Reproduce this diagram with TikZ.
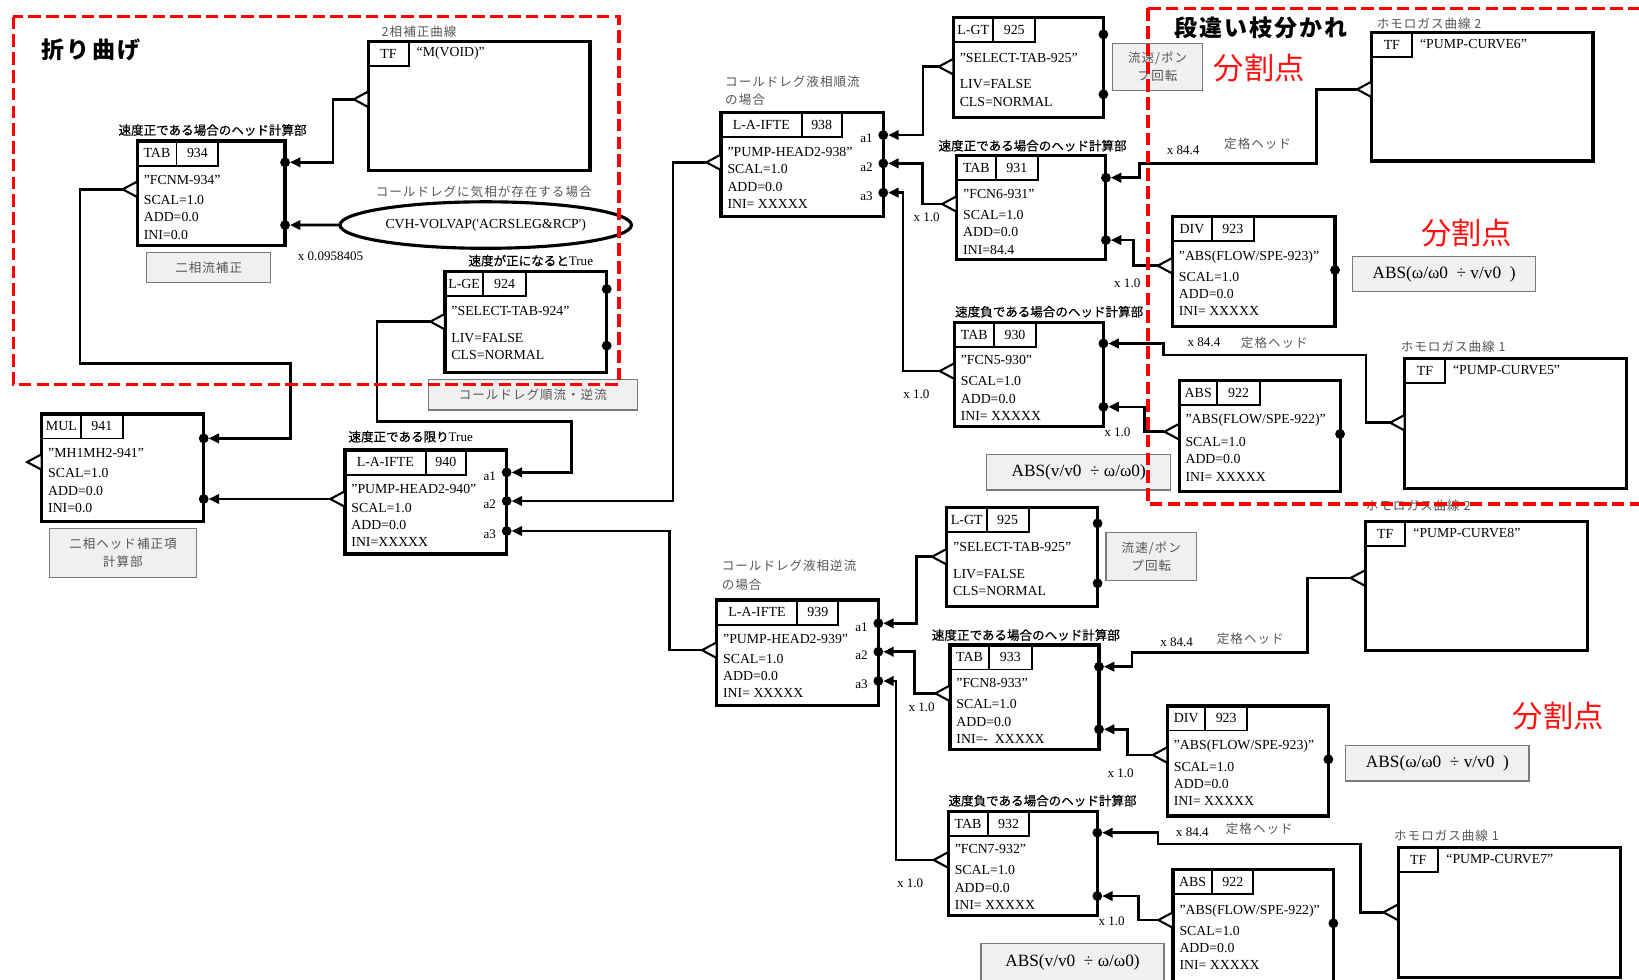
\documentclass[tikz,border=0pt]{standalone}
\usepackage{fontspec}
\setmainfont{Liberation Serif}
\newfontfamily\serifnl{Liberation Serif}
\newfontfamily\jp{Noto Sans CJK JP}
\newfontfamily\jpm[FakeBold=0.5]{Noto Sans CJK JP}
\newfontfamily\jpg[LetterSpace=8]{Noto Sans CJK JP}
\newfontfamily\jpt[LetterSpace=9]{Noto Sans CJK JP}
\usetikzlibrary{arrows.meta,shapes.geometric}
\definecolor{lgray}{HTML}{555555}
\definecolor{boxgray}{HTML}{7A7A7A}
\definecolor{boxfill}{HTML}{F0F0F0}
\definecolor{dred}{HTML}{FF1010}
\tikzset{
  box/.style={draw, line width=3pt, outer sep=0pt, inner sep=0pt, anchor=north west},
  hcell/.style={draw, line width=1.8pt, outer sep=0pt, inner sep=0pt, minimum height=23.5pt, anchor=north west, font=\fontsize{13.3}{15}\selectfont},
  body/.style={anchor=north west, align=left, inner sep=0pt, font=\fontsize{13.2}{16.7}\selectfont},
  dot/.style={circle, fill, inner sep=0pt, outer sep=0pt, minimum size=9.4pt},
  portst/.style={draw, line width=2pt, fill=white, line join=miter},
  conn/.style={line width=2.5pt, -{Triangle[length=10pt,width=9pt]}, line join=miter},
  gbox/.style={draw=boxgray, fill=boxfill, line width=1.3pt, inner sep=0pt, outer sep=0pt, anchor=north west, align=center, text=lgray, font=\jpg\fontsize{12}{17}\selectfont},
  abox/.style={draw=boxgray, fill=boxfill, line width=1.3pt, inner sep=0pt, outer sep=0pt, anchor=north west, align=center, font=\fontsize{16.5}{18}\selectfont},
  glab/.style={anchor=west, inner sep=0pt, text=lgray, font=\jpg\fontsize{12}{17}\selectfont},
  blab/.style={anchor=west, inner sep=0pt, font=\jpm\fontsize{12}{14}\selectfont},
  xlab/.style={anchor=west, inner sep=0pt, font=\fontsize{12.5}{14}\selectfont},
  alab/.style={anchor=east, inner sep=0pt, font=\fontsize{12.5}{14}\selectfont},
  splitlab/.style={anchor=west, inner sep=0pt, text=dred, font=\jp\fontsize{29}{30}\selectfont},
  ttl/.style={anchor=west, inner sep=0pt, font=\jpt\bfseries\fontsize{22}{24}\selectfont},
  reddash/.style={draw=red, line width=3pt, dash pattern=on 12pt off 5pt},
}
\newcommand\blk[9]{%
  \node[box, minimum width=#4pt, minimum height=#5pt] (#1) at (#2,#3) {};
  \node[hcell, minimum width=#7pt] (#1t) at (#1.north west) {#6};
  \node[hcell, minimum width=#9pt] (#1n) at (#1t.north east) {#8};
}
\newcommand\tfblk[6]{%
  \node[box, minimum width=#4pt, minimum height=#5pt] (#1) at (#2,#3) {};
  \node[hcell, minimum width=38.5pt] (#1t) at (#1.north west) {TF};
  \node[anchor=west, inner sep=0pt, font=\fontsize{13.2}{15}\selectfont] (#1x) at ([xshift=46pt,yshift=-11pt]#1.north west) {#6};
}
\newcommand\dotat[3]{\node[dot] (#1) at ([yshift=-#3pt]#2.north east) {};}
\newcommand\portat[3]{\coordinate (#1) at ([xshift=-14pt,yshift=-#3pt]#2.north west);
  \draw[portst] (#1) -- ++(14,-7.5) -- ++(0,15) -- cycle;}
\newcommand\bodyat[3]{\node[body] at ([xshift=6pt,yshift=-#2pt]#1.north west) {#3};}

\begin{document}
\begin{tikzpicture}[x=1pt,y=-1pt]
\useasboundingbox (0,0) rectangle (1568,937);

% ---------------- blocks ----------------
\tfblk{tfmv}{352.4}{39.9}{212}{123.4}{“M(VOID)”}
\blk{b934}{131.4}{134.9}{141.3}{100.1}{TAB}{37.5}{934}{40}
\bodyat{b934}{32.2}{”FCNM-934”\\[2.8pt]SCAL=1.0\\ADD=0.0\\INI=0.0}
\blk{b941}{39.9}{396}{155}{103}{MUL}{37.6}{941}{40}
\bodyat{b941}{32.8}{”MH1MH2-941”\\[2.8pt]SCAL=1.0\\ADD=0.0\\INI=0.0}
\blk{b940}{330}{430.5}{154.7}{99.5}{L-A-IFTE}{77.3}{940}{38.5}
\bodyat{b940}{32.2}{”PUMP-HEAD2-940”\\[1.5pt]SCAL=1.0\\ADD=0.0\\INI=XXXXX}
\blk{b924}{425.7}{259.9}{154.7}{96.3}{L-GE}{36.7}{924}{40.6}
\bodyat{b924}{33.2}{”SELECT-TAB-924”\\[8.5pt]LIV=FALSE\\CLS=NORMAL}
\blk{b938}{689.8}{107.5}{155.2}{99.8}{L-A-IFTE}{77.2}{938}{38.2}
\bodyat{b938}{33}{”PUMP-HEAD2-938”\\[0pt]SCAL=1.0\\ADD=0.0\\INI= XXXXX}
\blk{b925a}{912}{16.6}{143.6}{96}{L-GT}{38.3}{925}{40}
\bodyat{b925a}{33.8}{”SELECT-TAB-925”\\[9pt]LIV=FALSE\\CLS=NORMAL}
\blk{b931}{915.3}{149}{142.7}{99}{TAB}{37.6}{931}{39.8}
\bodyat{b931}{31.5}{”FCN6-931”\\[3.5pt]SCAL=1.0\\ADD=0.0\\INI=84.4}
\blk{b930}{913}{308.5}{142.6}{99.8}{TAB}{38}{930}{40}
\bodyat{b930}{31.4}{”FCN5-930”\\[3.3pt]SCAL=1.0\\ADD=0.0\\INI= XXXXX}
\blk{b923a}{1121.6}{207.3}{155.6}{105.2}{DIV}{37.6}{923}{40.5}
\bodyat{b923a}{32.2}{”ABS(FLOW/SPE-923)”\\[3.3pt]SCAL=1.0\\ADD=0.0\\INI= XXXXX}
\blk{b922a}{1128}{364.2}{154}{106.2}{ABS}{36.6}{922}{40.8}
\bodyat{b922a}{31.5}{”ABS(FLOW/SPE-922)”\\[5pt]SCAL=1.0\\ADD=0.0\\INI= XXXXX}
\tfblk{tf6}{1312.3}{31}{211.7}{123}{“PUMP-CURVE6”}
\tfblk{tf5}{1343.9}{342.8}{212}{124.4}{“PUMP-CURVE5”}

\blk{b925b}{905.7}{485.4}{144.3}{95}{L-GT}{38.3}{925}{40}
\bodyat{b925b}{33.1}{”SELECT-TAB-925”\\[8.8pt]LIV=FALSE\\CLS=NORMAL}
\blk{b939}{685.6}{574}{154.7}{101}{L-A-IFTE}{77.2}{939}{39.2}
\bodyat{b939}{33.1}{”PUMP-HEAD2-939”\\[1.5pt]SCAL=1.0\\ADD=0.0\\INI= XXXXX}
\blk{b933}{908.8}{617}{142.6}{99.8}{TAB}{37.4}{933}{40.8}
\bodyat{b933}{31.3}{”FCN8-933”\\[4pt]SCAL=1.0\\ADD=0.0\\INI=-\ \ XXXXX}
\blk{b932}{907.2}{776.5}{142.6}{99.5}{TAB}{37.8}{932}{39.8}
\bodyat{b932}{30.6}{”FCN7-932”\\[4pt]SCAL=1.0\\ADD=0.0\\INI= XXXXX}
\blk{b923b}{1116.8}{675.4}{154}{105.3}{DIV}{36}{923}{40.5}
\bodyat{b923b}{31.9}{”ABS(FLOW/SPE-923)”\\[4.3pt]SCAL=1.0\\ADD=0.0\\INI= XXXXX}
\blk{b922b}{1122.2}{831.7}{153.4}{112}{ABS}{37.6}{922}{39.2}
\bodyat{b922b}{33.4}{”ABS(FLOW/SPE-922)”\\[3.4pt]SCAL=1.0\\ADD=0.0\\INI= XXXXX}
\tfblk{tf8}{1306}{499}{212.6}{123}{“PUMP-CURVE8”}
\tfblk{tf7}{1337.5}{811}{212.4}{124.4}{“PUMP-CURVE7”}

% ellipse
\node[ellipse, draw, line width=3pt, minimum width=278.8pt, minimum height=44.5pt, inner sep=0pt, outer sep=0pt, font=\serifnl\fontsize{13.2}{15}\selectfont] (ell) at (464.7,215.3) {CVH-VOLVAP('ACRSLEG\&RCP')};

% ---------------- input dots ----------------
\dotat{d934a}{b934}{20.4}\dotat{d934b}{b934}{80.4}
\dotat{d941a}{b941}{23.4}\dotat{d941b}{b941}{81.4}
\dotat{d940a}{b940}{21.4}\dotat{d940b}{b940}{48.8}\dotat{d940c}{b940}{77.5}
\dotat{d924a}{b924}{16.6}\dotat{d924b}{b924}{70.8}
\dotat{d938a}{b938}{21.7}\dotat{d938b}{b938}{48.8}\dotat{d938c}{b938}{76.8}
\dotat{d925aa}{b925a}{16.3}\dotat{d925ab}{b925a}{73.6}
\dotat{d931a}{b931}{21}\dotat{d931b}{b931}{80.7}
\dotat{d930a}{b930}{20.1}\dotat{d930b}{b930}{80.7}
\dotat{d923a}{b923a}{51}
\dotat{d922a}{b922a}{51}
\dotat{d925ba}{b925b}{15.3}\dotat{d925bb}{b925b}{72.6}
\dotat{d939a}{b939}{22.3}\dotat{d939b}{b939}{49.5}\dotat{d939c}{b939}{77.5}
\dotat{d933a}{b933}{20.8}\dotat{d933b}{b933}{80.7}
\dotat{d932a}{b932}{20.1}\dotat{d932b}{b932}{80.7}
\dotat{d923b}{b923b}{51}
\dotat{d922b}{b922b}{51.6}

% ---------------- output ports ----------------
\portat{ptfmv}{tfmv}{55.1}
\portat{p934}{b934}{46.2}
\portat{p941}{b941}{46}
\portat{p940}{b940}{46.9}
\portat{p924}{b924}{47.8}
\portat{p938}{b938}{47.8}
\portat{p925a}{b925a}{47.2}
\portat{p931}{b931}{46.2}
\portat{p930}{b930}{46.5}
\portat{p923a}{b923a}{46.9}
\portat{p922a}{b922a}{48.8}
\portat{ptf6}{tf6}{54.5}
\portat{ptf5}{tf5}{61.6}
\portat{p925b}{b925b}{47.2}
\portat{p939}{b939}{48}
\portat{p933}{b933}{46.3}
\portat{p932}{b932}{46.2}
\portat{p923b}{b923b}{46.9}
\portat{p922b}{b922b}{48.5}
\portat{ptf8}{tf8}{54}
\portat{ptf7}{tf7}{61.8}

% ---------------- connectors ----------------
\draw[conn] (ptfmv) -- ++(-20,0) |- (d934a);
\draw[conn] (ell.west) -- (d934b);
\draw[conn] (p934) -- ++(-41,0) |- (278,347.6) |- (d941a);
\draw[conn] (p940) -- (d941b);
\draw[conn] (p924) -- ++(-51,0) |- (546.9,403.4) |- (d940a);
\draw[conn] (p938) -- ++(-32,0) |- (d940b);
\draw[conn] (p939) -- ++(-31,0) |- (d940c);
\draw[conn] (p925a) -- ++(-15,0) |- (d938a);
\draw[conn] (p931) -- ++(-19,0) |- (d938b);
\draw[conn] (p930) -- ++(-35,0) |- (d938c);
\draw[conn] (ptf6) -- ++(-39,0) |- (1090.3,156.3) |- (d931a);
\draw[conn] (p923a) -- ++(-23,0) |- (d931b);
\draw[conn] (ptf5) -- ++(-23,0) |- (1113,339.6) |- (d930a);
\draw[conn] (p922a) -- ++(-19,0) |- (d930b);
\draw[conn] (p925b) -- ++(-15,0) |- (d939a);
\draw[conn] (p933) -- ++(-20,0) |- (d939b);
\draw[conn] (p932) -- ++(-36,0) |- (d939c);
\draw[conn] (ptf8) -- ++(-41,0) |- (1083,624) |- (d933a);
\draw[conn] (p923b) -- ++(-24,0) |- (d933b);
\draw[conn] (ptf7) -- ++(-22,0) |- (1107.8,807.5) |- (d932a);
\draw[conn] (p922b) -- ++(-19,0) |- (d932b);

% ---------------- port labels a1..a3 ----------------
\foreach \n in {938,940,939}{
  \node[alab] (la1\n) at ([xshift=-10pt,yshift=-3.5pt]d\n a.center) {a1};
  \node[alab] (la2\n) at ([xshift=-10pt,yshift=-3.5pt]d\n b.center) {a2};
  \node[alab] (la3\n) at ([xshift=-10pt,yshift=-3.5pt]d\n c.center) {a3};
}

% ---------------- gray boxes ----------------
\node[gbox, minimum width=118.7pt, minimum height=29pt] (g1) at (140.3,241.4) {二相流補正};
\node[gbox, minimum width=199.9pt, minimum height=29.3pt] (g2) at (409.8,362.9) {コールドレグ順流・逆流};
\node[gbox, minimum width=140.7pt, minimum height=46.9pt] (g3) at (47.3,505.4) {二相ヘッド補正項\\計算部};
\node[gbox, minimum width=85.8pt, minimum height=45.3pt] (g4) at (1064.5,41.5) {流速/ポン\\プ回転};
\node[gbox, minimum width=86.8pt, minimum height=46.2pt] (g5) at (1058,509.3) {流速/ポン\\プ回転};
\node[abox, minimum width=175.4pt, minimum height=33.4pt] (g6) at (1293.8,245.6) {ABS(ω/ω0\ \ ÷ v/v0\ \ )};
\node[abox, minimum width=175.4pt, minimum height=33.8pt] (g7) at (1287.4,713.4) {ABS(ω/ω0\ \ ÷ v/v0\ \ )};
\node[abox, minimum width=176pt, minimum height=34.1pt] (g8) at (944,434.7) {ABS(v/v0\ \ ÷ ω/ω0)};
\node[abox, minimum width=175.1pt, minimum height=36pt] (g9) at (938.5,902.5) {ABS(v/v0\ \ ÷ ω/ω0)};

% ---------------- labels ----------------
\node[blab] (l1) at (113.2,124.4) {速度正である場合のヘッド計算部};
\node[blab] (l2) at (897.7,139.4) {速度正である場合のヘッド計算部};
\node[blab] (l3) at (891.3,607.5) {速度正である場合のヘッド計算部};
\node[blab] (l4) at (913.6,298.2) {速度負である場合のヘッド計算部};
\node[blab] (l5) at (907.2,766) {速度負である場合のヘッド計算部};
\node[blab] (l6) at (448,249.4) {速度が正になると{\fontspec{Liberation Serif}\fontsize{12.5}{14}\selectfont True}};
\node[blab] (l7) at (333.2,417.8) {速度正である限り{\fontspec{Liberation Serif}\fontsize{12.5}{14}\selectfont True}};

\node[glab] (g10) at (365,30.3) {2相補正曲線};
\node[glab] (g11) at (359.4,183.4) {コールドレグに気相が存在する場合};
\node[glab] (g12) at (693.6,78.1) {コールドレグ液相順流};
\node[glab] (g13) at (693.6,95) {の場合};
\node[glab] (g14) at (690.4,541.5) {コールドレグ液相逆流};
\node[glab] (g15) at (690.4,559.6) {の場合};
\node[glab] (g16) at (1317,23) {ホモロガス曲線 2};
\node[glab] (g17) at (1306.5,484) {ホモロガス曲線 2};
\node[glab] (g18) at (1340,331.7) {ホモロガス曲線 1};
\node[glab] (g19) at (1333.6,799.8) {ホモロガス曲線 1};
\node[glab] (g20) at (1171,137.8) {定格ヘッド};
\node[glab] (g21) at (1187,327.5) {定格ヘッド};
\node[glab] (g22) at (1164,611.3) {定格ヘッド};
\node[glab] (g23) at (1172.6,792.4) {定格ヘッド};

\node[xlab] (x1) at (284.8,245.6) {x 0.0958405};
\node[xlab] (x2) at (1116,144) {x 84.4};
\node[xlab] (x3) at (1136,327.5) {x 84.4};
\node[xlab] (x4) at (1109.8,614.5) {x 84.4};
\node[xlab] (x5) at (1124.8,796.3) {x 84.4};
\node[xlab] (x6) at (873.8,208) {x 1.0};
\node[xlab] (x7) at (864,377.3) {x 1.0};
\node[xlab] (x8) at (1065.7,271.1) {x 1.0};
\node[xlab] (x9) at (1056.2,413.6) {x 1.0};
\node[xlab] (x10) at (869,677) {x 1.0};
\node[xlab] (x11) at (858,845) {x 1.0};
\node[xlab] (x12) at (1059.4,739.8) {x 1.0};
\node[xlab] (x13) at (1050.8,881.8) {x 1.0};

\node[splitlab] (s1) at (1161,65.4) {分割点};
\node[splitlab] (s2) at (1359.5,223.2) {分割点};
\node[splitlab] (s3) at (1447,685) {分割点};

\node[ttl] (t1) at (39.9,47.8) {折り曲げ};
\node[ttl] (t2) at (1123,27.1) {段違い枝分かれ};

% ---------------- red dashed regions ----------------
\draw[reddash] (12.8,16) rectangle (592.2,367.7);
\draw[reddash] (1098.3,8) -- (1580,8) (1098.3,8) -- (1098.3,482.2) -- (1580,482.2);
\end{tikzpicture}
\end{document}
